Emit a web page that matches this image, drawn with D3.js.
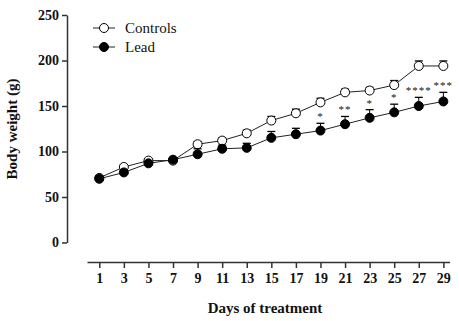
<!DOCTYPE html>
<html>
<head>
<meta charset="utf-8">
<script src="https://cdn.jsdelivr.net/npm/d3@7"></script>
<style>
  body { margin: 0; background: #fff; }
  svg text { font-family: "Liberation Serif", "Times New Roman", serif; fill: #111; }
</style>
</head>
<body>
<svg id="chart"></svg>
<script>
// body weight of rats, mean + SEM
const days = [1, 3, 5, 7, 9, 11, 13, 15, 17, 19, 21, 23, 25, 27, 29]
const controls = [71, 83, 90, 90, 108, 112, 120, 134, 142, 154, 165, 167, 173, 194, 194]
const controlsSem = [2, 2, 2, 2, 3, 3, 3.5, 4.5, 4.5, 4.5, 3.5, 3.5, 5, 5.5, 5.5]
const lead = [70, 77, 87, 91, 97, 103, 104, 115, 119, 123, 130, 137, 143, 150, 155]
const leadSem = [2, 2, 2, 2, 6, 4, 5, 7, 6.5, 8, 8.5, 9, 9, 9.5, 10]
const stars = ["", "", "", "", "", "", "", "", "", "*", "**", "*", "*", "****", "***"]
const yTicks = [0, 50, 100, 150, 200, 250]

const width = 459, height = 321
const axisColor = "#333"

const svg = d3.select("#chart")
    .attr("width", width)
    .attr("height", height)

const x = d3.scaleLinear().domain([0, 29.5]).range([87, 449.5])
const y = d3.scaleLinear().domain([0, 250]).range([242.5, 15])

// y axis
const yAxis = svg.append("g")
    .attr("transform", "translate(67,0)")
    .call(d3.axisLeft(y).tickValues(yTicks).tickSize(5).tickSizeOuter(0).tickPadding(3))
yAxis.selectAll("path, line").attr("stroke", axisColor).attr("stroke-width", 1.5)
yAxis.selectAll("text")
    .style("font-family", "Liberation Serif")
    .style("font-size", "14px")
    .style("font-weight", "bold")
    .attr("fill", "#111")

// x axis, detached below the plot
const xAxis = svg.append("g")
    .attr("transform", "translate(0,262)")
    .call(d3.axisBottom(x).tickValues(days).tickSize(6).tickSizeOuter(0).tickPadding(5))
xAxis.selectAll("path, line").attr("stroke", axisColor).attr("stroke-width", 1.5)
xAxis.selectAll("text")
    .style("font-family", "Liberation Serif")
    .style("font-size", "14px")
    .style("font-weight", "bold")
    .attr("fill", "#111")

// axis titles
svg.append("text")
    .attr("x", 265).attr("y", 313)
    .attr("text-anchor", "middle")
    .style("font-size", "15px")
    .style("font-weight", "bold")
    .text("Days of treatment")

svg.append("text")
    .attr("transform", "translate(17,129) rotate(-90)")
    .attr("text-anchor", "middle")
    .style("font-size", "15px")
    .style("font-weight", "bold")
    .text("Body weight (g)")

const series = [
    { name: "Controls", values: controls, sem: controlsSem, fill: "#fff" },
    { name: "Lead", values: lead, sem: leadSem, fill: "#000" }
]

const line = d3.line()
    .x((d, i) => x(days[i]))
    .y(d => y(d))

series.forEach(s => {
    const g = svg.append("g")
    // error bars (upper only)
    g.selectAll("line.err")
        .data(s.values)
        .join("line")
        .attr("class", "err")
        .attr("x1", (d, i) => x(days[i]))
        .attr("x2", (d, i) => x(days[i]))
        .attr("y1", d => y(d))
        .attr("y2", (d, i) => y(d + s.sem[i]))
        .attr("stroke", "#000").attr("stroke-width", 1)
    g.selectAll("line.cap")
        .data(s.values)
        .join("line")
        .attr("class", "cap")
        .attr("x1", (d, i) => x(days[i]) - 4)
        .attr("x2", (d, i) => x(days[i]) + 4)
        .attr("y1", (d, i) => y(d + s.sem[i]))
        .attr("y2", (d, i) => y(d + s.sem[i]))
        .attr("stroke", "#000").attr("stroke-width", 1.3)
    g.append("path")
        .datum(s.values)
        .attr("d", line)
        .attr("fill", "none")
        .attr("stroke", "#222")
        .attr("stroke-width", 1)
    g.selectAll("circle")
        .data(s.values)
        .join("circle")
        .attr("cx", (d, i) => x(days[i]))
        .attr("cy", d => y(d))
        .attr("r", 4.5)
        .attr("fill", s.fill)
        .attr("stroke", "#000")
        .attr("stroke-width", 1)
})

// significance stars above lead error bars
svg.append("g").selectAll("text")
    .data(stars)
    .join("text")
    .attr("x", (d, i) => x(days[i]))
    .attr("y", (d, i) => y(lead[i] + leadSem[i]) - 3)
    .attr("text-anchor", "middle")
    .style("font-size", "11px")
    .style("letter-spacing", "1px")
    .text(d => d)

// legend
const legend = svg.append("g").attr("transform", "translate(93,28)")
series.forEach((s, i) => {
    const row = legend.append("g").attr("transform", `translate(0,${i * 19})`)
    row.append("line")
        .attr("x1", 0).attr("x2", 22)
        .attr("stroke", "#222").attr("stroke-width", 1)
    row.append("circle")
        .attr("cx", 11).attr("r", 4.5)
        .attr("fill", s.fill).attr("stroke", "#000")
    row.append("text")
        .attr("x", 32).attr("dy", "0.35em")
        .style("font-size", "15px")
        .text(s.name)
})
</script>
</body>
</html>
